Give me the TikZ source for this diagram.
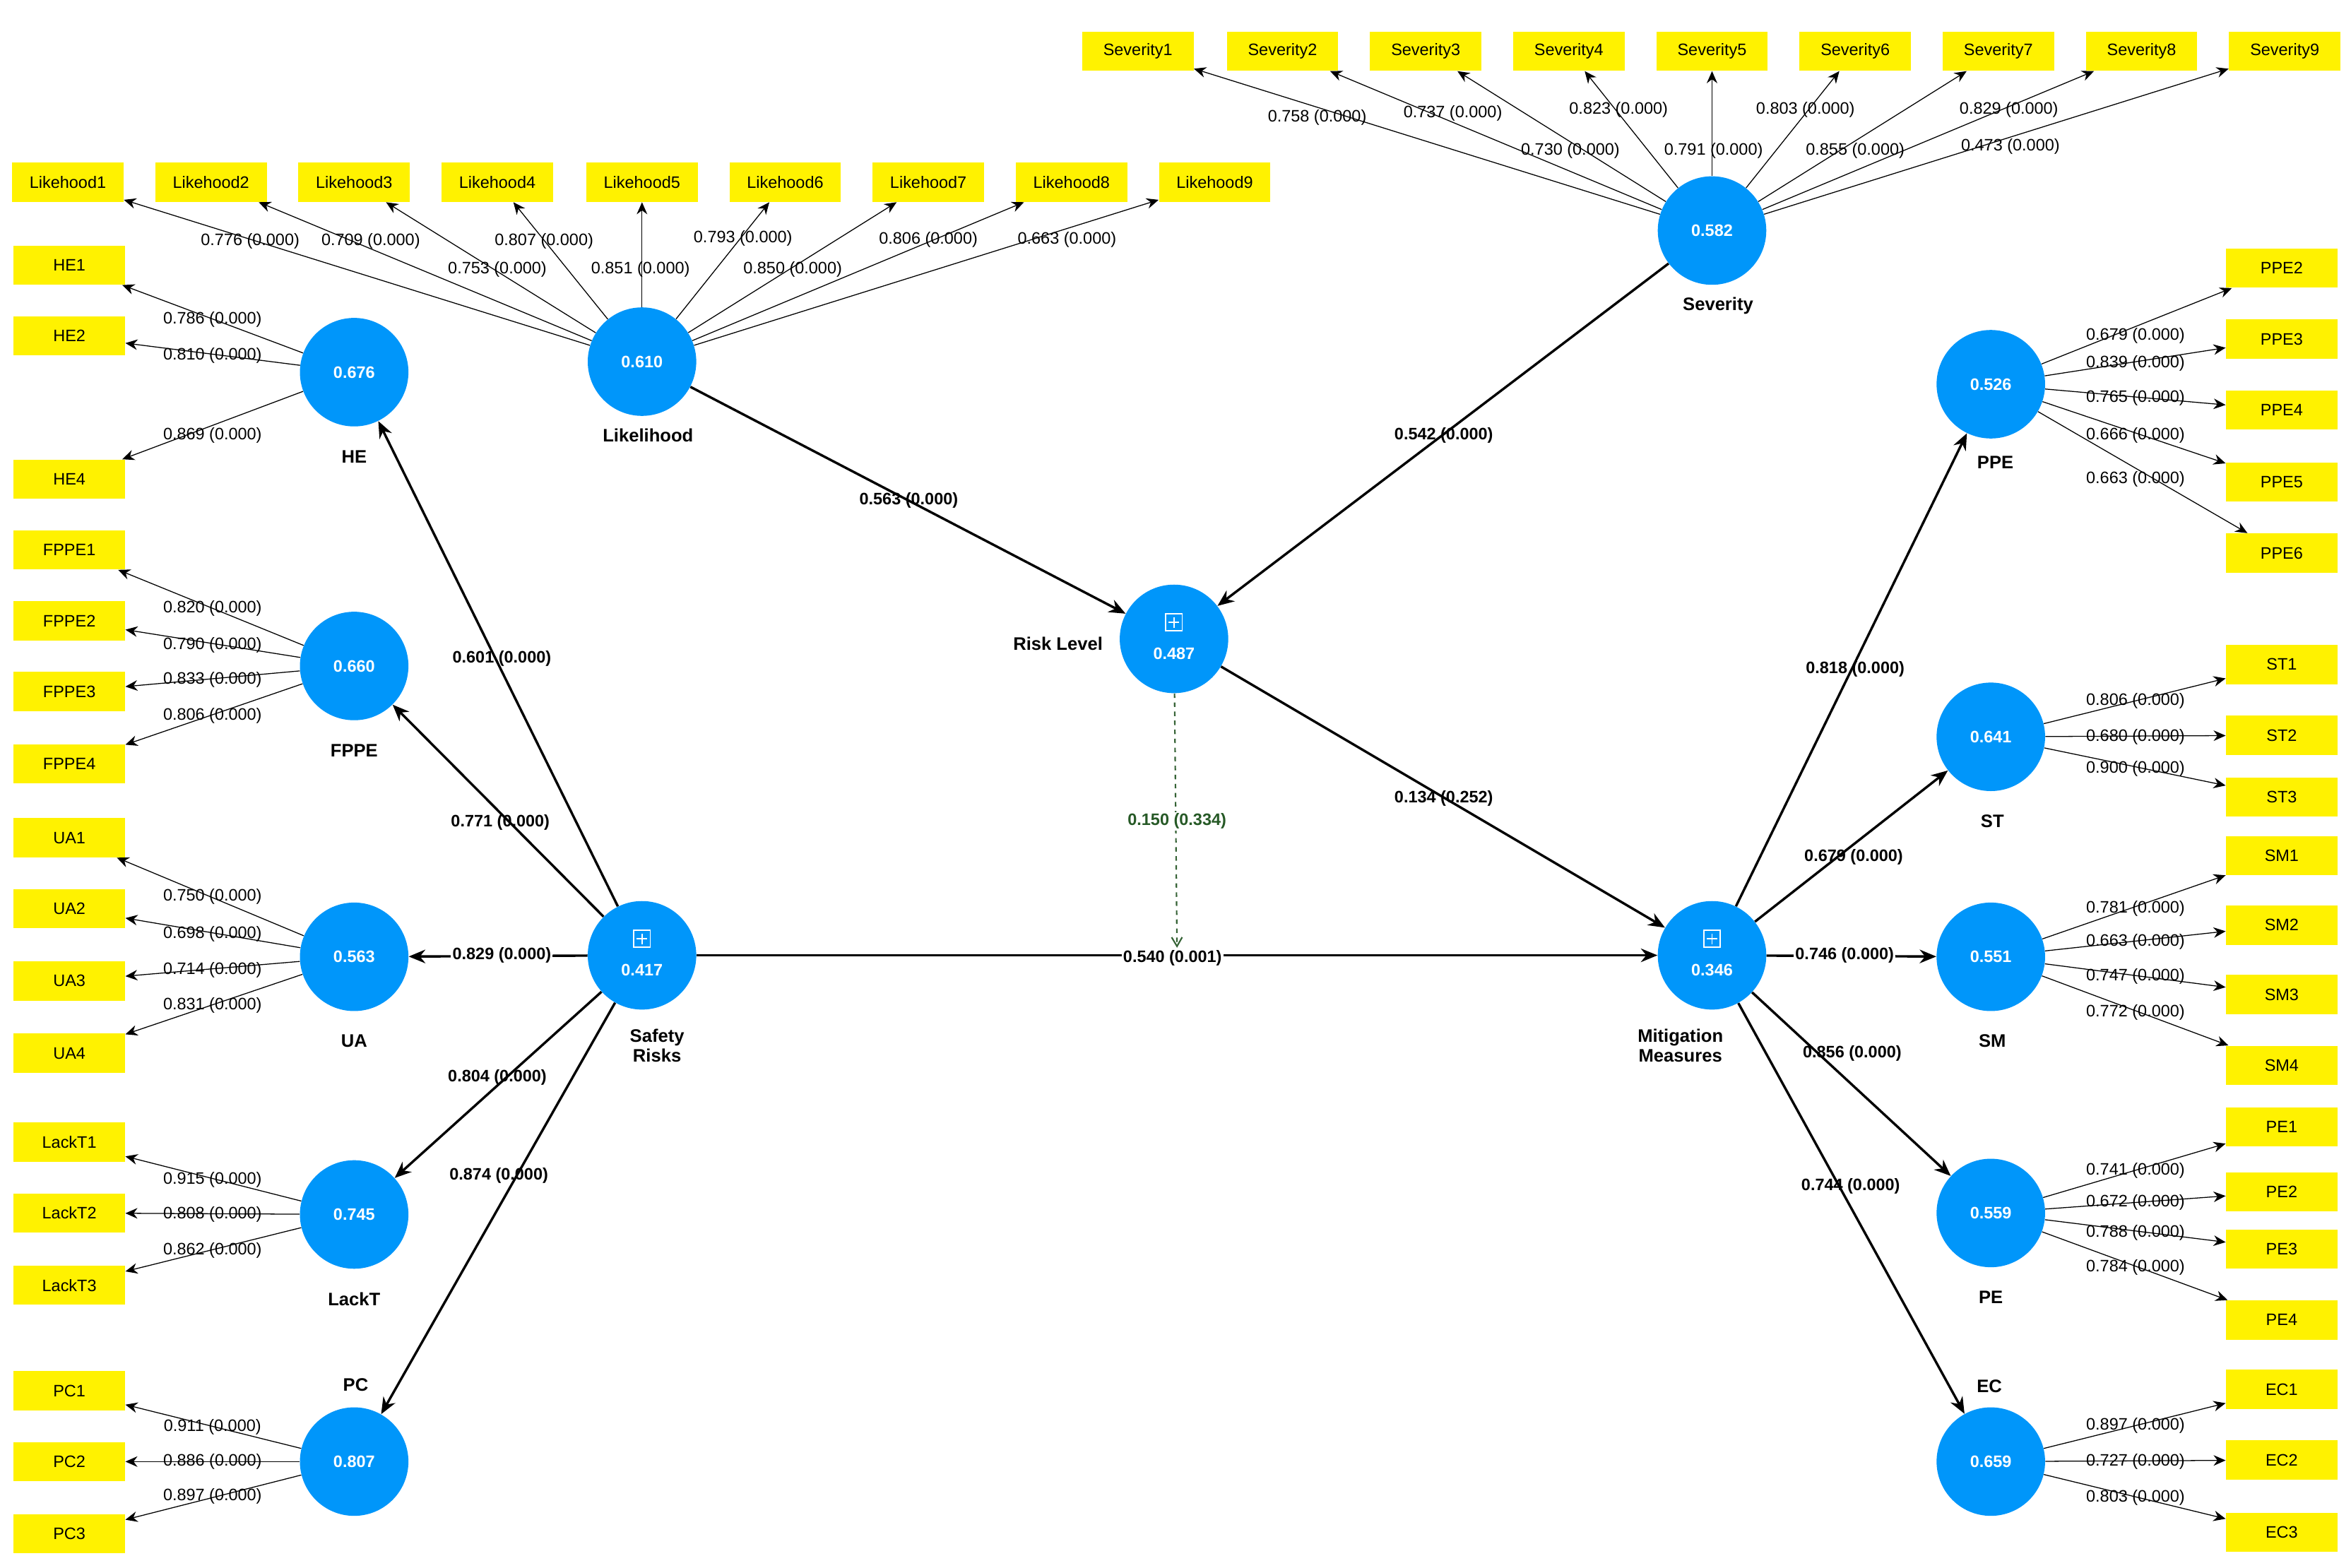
\documentclass[tikz,border=0pt]{standalone}
\usepackage{fontspec}
\setmainfont{Liberation Sans}
\usetikzlibrary{arrows.meta}
\definecolor{lvblue}{RGB}{0,150,250}
\begin{document}
\begin{tikzpicture}[x=1pt,y=-1pt,
 lv/.style={circle,fill=lvblue,draw=none,minimum size=72pt,inner sep=0pt,text=white,font=\bfseries\fontsize{11}{12}\selectfont},
 ind/.style={fill=yellow,minimum width=74pt,minimum height=26pt,inner sep=0pt,font=\fontsize{11}{12}\selectfont},
 ld/.style={font=\fontsize{11}{12}\selectfont,inner sep=1pt},
 st/.style={font=\bfseries\fontsize{11}{12}\selectfont,inner sep=1pt},
 nm/.style={font=\bfseries\fontsize{12}{13}\selectfont,align=center},
 thin/.style={-{Stealth[length=8pt,width=7pt]},line width=0.6pt},
 thick/.style={-{Stealth[length=11pt,width=9pt]},line width=1.6pt}]
\fill[white] (0,0) rectangle (1560,1040.6);
% latent variables
\node[lv] (Lik) at (426,240) {0.610};
\node[lv] (Sev) at (1136,153) {0.582};
\node[lv] (RL) at (779,424) {};
\node[lv] (SR) at (426,634) {};
\node[lv] (MM) at (1136,634) {};
\foreach \n/\v in {RL/0.487,SR/0.417,MM/0.346}{
 \node[text=white,font=\bfseries\fontsize{11}{12}\selectfont] (\n t) at ([yshift=-10pt]\n.center) {\v};
 \node[draw=white,line width=0.8pt,minimum size=11pt,inner sep=0pt] (\n p) at ([yshift=11pt]\n.center) {};
 \draw[white,line width=0.8pt] ([xshift=-3.5pt]\n p.center) -- ([xshift=3.5pt]\n p.center) ([yshift=-3.5pt]\n p.center) -- ([yshift=3.5pt]\n p.center);
}
\node[lv] (HE) at (235,247) {0.676};
\node[lv] (FPPE) at (235,442) {0.660};
\node[lv] (UA) at (235,635) {0.563};
\node[lv] (LackT) at (235,806) {0.745};
\node[lv] (PC) at (235,970) {0.807};
\node[lv] (PPE) at (1321,255) {0.526};
\node[lv] (ST) at (1321,489) {0.641};
\node[lv] (SM) at (1321,635) {0.551};
\node[lv] (PE) at (1321,805) {0.559};
\node[lv] (EC) at (1321,970) {0.659};
% names
\node[nm] (nLik) at (430,289) {Likelihood};
\node[nm] (nSev) at (1140,203) {Severity};
\node[nm] (nHE) at (235,303) {HE};
\node[nm] (nFPPE) at (235,498) {FPPE};
\node[nm] (nUA) at (235,691) {UA};
\node[nm] (nLackT) at (235,862) {LackT};
\node[nm] (nPC) at (236,919) {PC};
\node[nm] (nRL) at (702,427) {Risk Level};
\node[nm] (nSR) at (436,694) {Safety\\Risks};
\node[nm] (nMM) at (1115,694) {Mitigation\\Measures};
\node[nm] (nPPE) at (1324,307) {PPE};
\node[nm] (nST) at (1322,545) {ST};
\node[nm] (nSM) at (1322,691) {SM};
\node[nm] (nPE) at (1321,861) {PE};
\node[nm] (nEC) at (1320,920) {EC};
% indicators + loadings
\foreach \i/\x/\lx/\ly/\l in {1/45/166/160/0.776,2/140/246/160/0.709,3/235/330/179/0.753,4/330/361/160/0.807,5/426/425/179/0.851,6/521/493/158/0.793,7/616/526/179/0.850,8/711/616/159/0.806,9/806/708/159/0.663}{
 \node[ind] (L\i) at (\x,121) {Likehood\i};
 \draw[thin] (Lik) -- (L\i);
 \node[ld] (lL\i) at (\lx,\ly) {\l\ (0.000)};}
\foreach \i/\x/\lx/\ly/\l in {1/755/874/78/0.758,2/851/964/75/0.737,3/946/1042/100/0.730,4/1041/1074/73/0.823,5/1136/1137/100/0.791,6/1231/1198/73/0.803,7/1326/1231/100/0.855,8/1421/1333/73/0.829,9/1516/1334/97/0.473}{
 \node[ind] (S\i) at (\x,34) {Severity\i};
 \draw[thin] (Sev) -- (S\i);
 \node[ld] (lS\i) at (\lx,\ly) {\l\ (0.000)};}
\foreach \lvn/\nm/\y/\ly/\l in {HE/HE1/176/212/0.786,HE/HE2/223/236/0.810,HE/HE4/318/289/0.869,
 FPPE/FPPE1/365/404/0.820,FPPE/FPPE2/412/428/0.790,FPPE/FPPE3/459/451/0.833,FPPE/FPPE4/507/475/0.806,
 UA/UA1/556/595/0.750,UA/UA2/603/620/0.698,UA/UA3/651/644/0.714,UA/UA4/699/667/0.831,
 LackT/LackT1/758/783/0.915,LackT/LackT2/805/806/0.808,LackT/LackT3/853/830/0.862,
 PC/PC1/923/947/0.911,PC/PC2/970/970/0.886,PC/PC3/1018/993/0.897}{
 \node[ind] (\nm) at (46,\y) {\nm};
 \draw[thin] (\lvn) -- (\nm);
 \node[ld] (l\nm) at (141,\ly) {\l\ (0.000)};}
\foreach \lvn/\nm/\y/\ly/\l in {PPE/PPE2/178/223/0.679,PPE/PPE3/225/241/0.839,PPE/PPE4/272/264/0.765,PPE/PPE5/320/289/0.666,PPE/PPE6/367/318/0.663,
 ST/ST1/441/465/0.806,ST/ST2/488/489/0.680,ST/ST3/529/510/0.900,
 SM/SM1/568/603/0.781,SM/SM2/614/625/0.663,SM/SM3/660/648/0.747,SM/SM4/707/672/0.772,
 PE/PE1/748/777/0.741,PE/PE2/791/798/0.672,PE/PE3/829/818/0.788,PE/PE4/876/841/0.784,
 EC/EC1/922/946/0.897,EC/EC2/969/970/0.727,EC/EC3/1017/994/0.803}{
 \node[ind] (\nm) at (1514,\y) {\nm};
 \draw[thin] (\lvn) -- (\nm);
 \node[ld] (l\nm) at (1417,\ly) {\l\ (0.000)};}
% structural paths
\draw[thick] (Lik) -- (RL);
\draw[thick] (Sev) -- (RL);
\draw[thick] (RL) -- (MM);
\draw[thick] (SR) -- (MM);
\foreach \t in {HE,FPPE,UA,LackT,PC}{\draw[thick] (SR) -- (\t);}
\foreach \t in {PPE,ST,SM,PE,EC}{\draw[thick] (MM) -- (\t);}
\coordinate (mod) at (781,629);
\draw[dashed,gray!70!green!60!black,line width=1pt,-{Straight Barb[length=6pt,width=7pt]}] (RL) -- (mod);
\node[st] (s1) at (603,332) {0.563 (0.000)};
\node[st] (s2) at (958,289) {0.542 (0.000)};
\node[st] (s3) at (958,530) {0.134 (0.252)};
\node[st,fill=white] (s4) at (778,636) {0.540 (0.001)};
\node[st,fill=white,text=gray!60!green!50!black] (s5) at (781,545) {0.150 (0.334)};
\node[st] (s6) at (333,437) {0.601 (0.000)};
\node[st] (s7) at (332,546) {0.771 (0.000)};
\node[st,fill=white] (s8) at (333,634) {0.829 (0.000)};
\node[st] (s9) at (330,715) {0.804 (0.000)};
\node[st] (s10) at (331,780) {0.874 (0.000)};
\node[st] (s11) at (1231,444) {0.818 (0.000)};
\node[st] (s12) at (1230,569) {0.679 (0.000)};
\node[st,fill=white] (s13) at (1224,634) {0.746 (0.000)};
\node[st] (s14) at (1229,699) {0.856 (0.000)};
\node[st] (s15) at (1228,787) {0.744 (0.000)};
\end{tikzpicture}
\end{document}
